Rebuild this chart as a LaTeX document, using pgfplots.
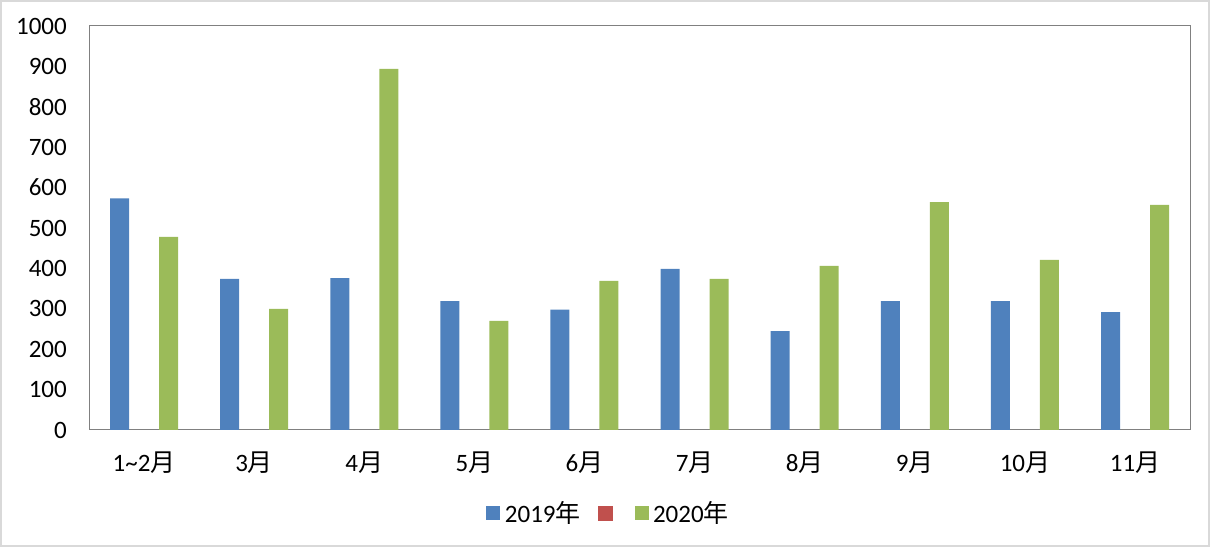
\documentclass[border=0pt]{standalone}
\usepackage{pgfplots}
\pgfplotsset{compat=1.18}
\usepackage{fontspec}
\setmainfont{Carlito}
\newfontfamily\cjk{Noto Sans CJK SC}
\definecolor{c19}{HTML}{4F81BD}
\definecolor{c20r}{HTML}{C0504D}
\definecolor{c20}{HTML}{9BBB59}
\definecolor{axc}{HTML}{808080}
\begin{document}
\begin{tikzpicture}[x=1bp,y=1bp]
\useasboundingbox (0,0) rectangle (1210,547);
\draw[black!15, line width=2bp] (1,1) rectangle (1209,546);
\begin{axis}[
  at={(89bp,117bp)}, anchor=south west,
  scale only axis, width=1101bp, height=404bp,
  xmin=-0.5, xmax=9.5, ymin=0, ymax=1000,
  ytick={0,100,...,1000},
  xtick={0,1,...,9},
  xticklabels={1\textasciitilde2{\cjk 月},3{\cjk 月},4{\cjk 月},5{\cjk 月},6{\cjk 月},7{\cjk 月},8{\cjk 月},9{\cjk 月},10{\cjk 月},11{\cjk 月}},
  major tick length=0pt,
  axis line style={axc, line width=1bp},
  /pgf/number format/assume math mode=true,
  /pgf/number format/1000 sep={},
  tick label style={font=\fontsize{25bp}{29bp}\selectfont, text=black},
  yticklabel style={anchor=east, inner sep=0pt, xshift=-22bp},
  xticklabel style={anchor=base, inner sep=0pt, yshift=-42bp},
  legend style={draw=none, fill=none, at={(0.473,-0.205)}, anchor=center,
    font=\fontsize{25bp}{29bp}\selectfont, legend columns=3,
    /tikz/every even column/.append style={column sep=13bp},
    nodes={inner sep=4.5bp}},
]
\addplot[ybar, bar width=19bp, bar shift=-24.5bp, fill=c19, draw=none,
  legend image code/.code={\fill[c19] (-4bp,-7bp) rectangle (10bp,7bp);}]
  coordinates {(0,573) (1,374) (2,376) (3,319) (4,298) (5,399) (6,245) (7,319) (8,319) (9,292)};
\addlegendentry{2019{\cjk 年}}
\addlegendimage{legend image code/.code={\fill[c20r] (-4bp,-7bp) rectangle (10bp,7bp);}}
\addlegendentry{}
\addplot[ybar, bar width=19bp, bar shift=24.5bp, fill=c20, draw=none,
  legend image code/.code={\fill[c20] (-4bp,-7bp) rectangle (10bp,7bp);}]
  coordinates {(0,478) (1,300) (2,894) (3,270) (4,369) (5,374) (6,406) (7,564) (8,421) (9,557)};
\addlegendentry{2020{\cjk 年}}
\end{axis}
\end{tikzpicture}
\end{document}
